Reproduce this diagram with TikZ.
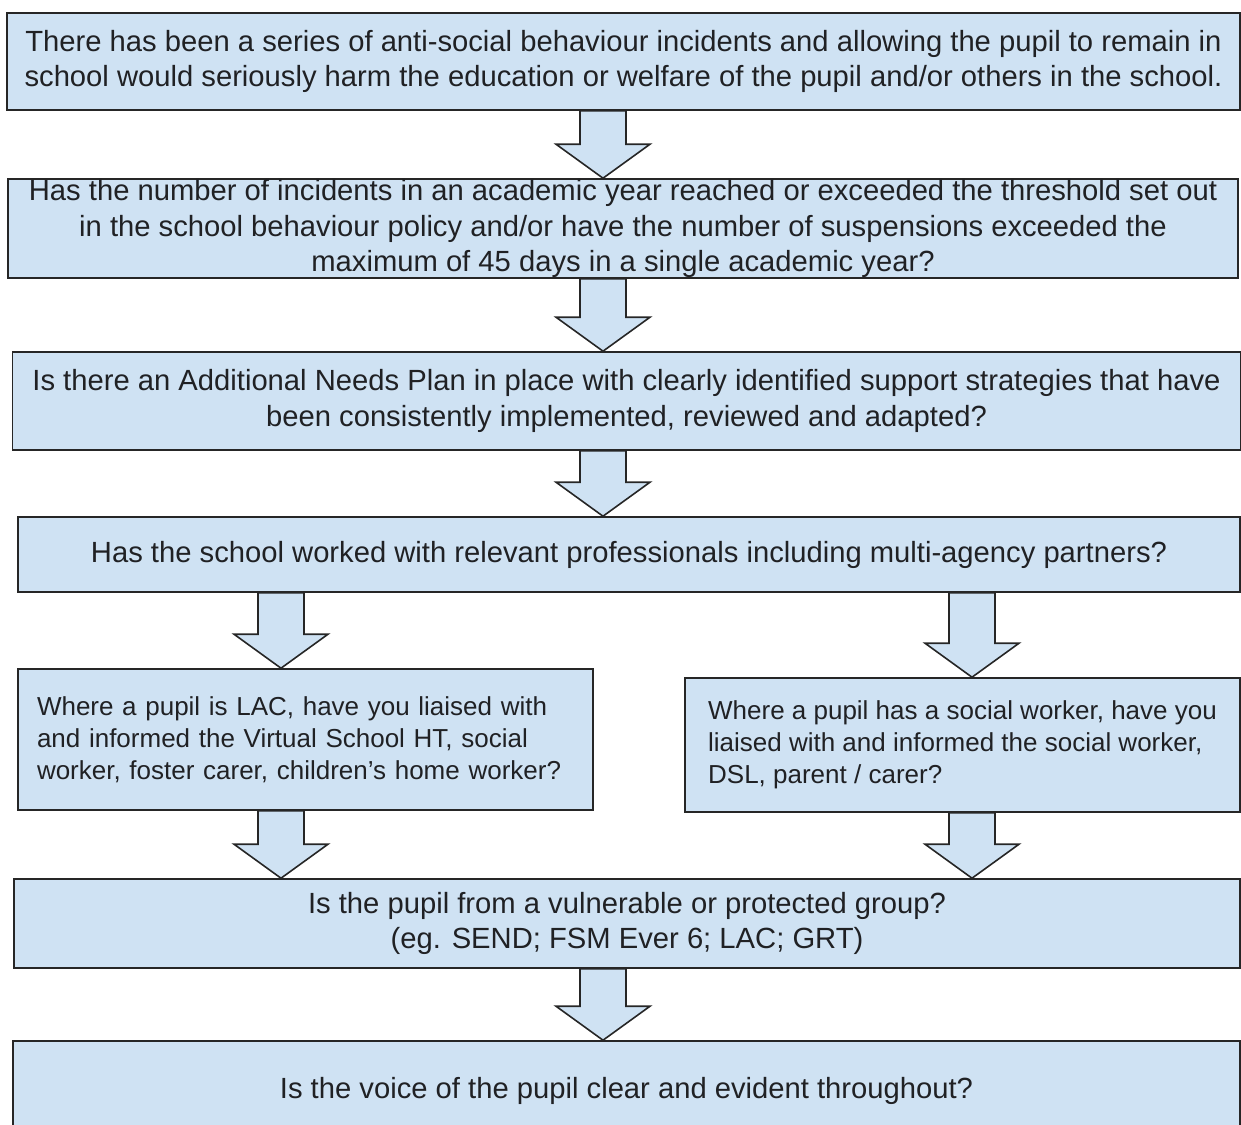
\documentclass[tikz,border=0pt]{standalone}
\usepackage{fontspec}
\setmainfont{Liberation Sans}
\usetikzlibrary{calc}
\definecolor{boxfill}{HTML}{CFE2F3}
\definecolor{ink}{HTML}{202124}
\definecolor{edge}{HTML}{262626}

% block arrow: axis x, from node, to node
\newcommand\flowarrow[3]{%
  \draw[flowarr] let \p0=(#1,0), \p1=(#2.south), \p2=(#3.north) in
    (\x0-11.5pt,\y1) -- (\x0+11.5pt,\y1) -- (\x0+11.5pt,\y2+17pt)
    -- (\x0+23.5pt,\y2+17pt) -- (\x0,\y2) -- (\x0-23.5pt,\y2+17pt)
    -- (\x0-11.5pt,\y2+17pt) -- cycle;}

\begin{document}
\begin{tikzpicture}[x=0.5pt,y=-0.5pt,
   qbox/.style={draw=edge,fill=boxfill,line width=0.8pt,text=ink,inner sep=0pt,
                align=center,font=\fontsize{14.6pt}{17.7pt}\selectfont},
   sidebox/.style={qbox,align=left,inner xsep=9.5pt,
                   font=\fontsize{13pt}{16pt}\selectfont},
   flowarr/.style={draw=edge,fill=boxfill,line width=0.8pt,line join=miter}]
  \useasboundingbox (0,0) rectangle (1241,1124);
  \clip (0,0) rectangle (1241,1124);

  \node[qbox,minimum width=616.5pt,minimum height=48.5pt] (q1) at (623.5,61.5) {%
    There has been a series of anti-social behaviour incidents and allowing the pupil to remain in\\
    school would seriously harm the education or welfare of the pupil and/or others in the school.};
  \node[qbox,minimum width=615pt,minimum height=49.5pt] (q2) at (623,228.5) {%
    Has the number of incidents in an academic year reached or exceeded the threshold set out\\
    in the school behaviour policy and/or have the number of suspensions exceeded the\\
    maximum of 45 days in a single academic year?};
  \node[qbox,minimum width=614pt,minimum height=49pt] (q3) at (626.5,401) {%
    Is there an Additional Needs Plan in place with clearly identified support strategies that have\\
    been consistently implemented, reviewed and adapted?};
  \node[qbox,minimum width=611pt,minimum height=37.5pt] (q4) at (629,554.5) {%
    Has the school worked with relevant professionals including multi-agency partners?};
  \node[sidebox,text width=268.5pt,minimum height=70.5pt] (q5a) at (305.5,739.5) {%
    Where a pupil is LAC, have you liaised with\\
    and informed the Virtual School HT, social\\
    worker, foster carer, children's home worker?};
  \node[sidebox,inner xsep=0pt,minimum width=277.5pt,minimum height=67pt] (q5b) at (962.5,745) {%
    Where a pupil has a social worker, have you\\
    liaised with and informed the social worker,\\
    DSL, parent / carer?};
  \node[qbox,minimum width=613pt,minimum height=44.5pt] (q6) at (627,923.5) {%
    Is the pupil from a vulnerable or protected group?\\
    (eg. SEND; FSM Ever 6; LAC; GRT)};
  \node[qbox,minimum width=613.5pt,minimum height=50pt] (q7) at (626.5,1091) {%
    Is the voice of the pupil clear and evident throughout?};

  \flowarrow{603}{q1}{q2}
  \flowarrow{603}{q2}{q3}
  \flowarrow{603}{q3}{q4}
  \flowarrow{281}{q4}{q5a}
  \flowarrow{972}{q4}{q5b}
  \flowarrow{281}{q5a}{q6}
  \flowarrow{972}{q5b}{q6}
  \flowarrow{603}{q6}{q7}
\end{tikzpicture}
\end{document}
